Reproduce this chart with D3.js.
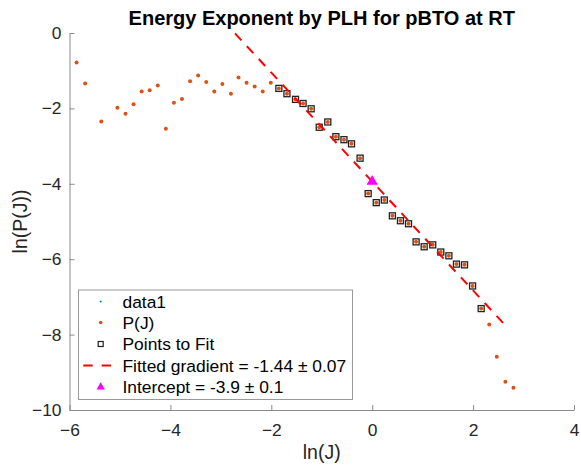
<!DOCTYPE html>
<html><head><meta charset="utf-8">
<script src="https://cdn.jsdelivr.net/npm/d3@7"></script>
<style>body{margin:0;background:#fff}svg{display:block;font-family:"Liberation Sans",Arial,Helvetica,sans-serif}</style>
</head><body><svg id="c" width="581" height="473"></svg>
<script>
const lnJ = [-5.86,-5.69,-5.37,-5.05,-4.89,-4.73,-4.57,-4.41,-4.25,-4.09,-3.93,-3.77,-3.61,-3.45,-3.29,-3.13,-2.97,-2.80,-2.65,-2.49,-2.33,-2.17,-2.01,-1.85,-1.69,-1.52,-1.37,-1.21,-1.05,-0.88,-0.72,-0.56,-0.41,-0.24,-0.08,0.08,0.24,0.40,0.56,0.72,0.87,1.03,1.20,1.36,1.52,1.67,1.83,1.99,2.16,2.32,2.47,2.64,2.80];
const lnP = [-0.78,-1.34,-2.35,-1.98,-2.14,-1.89,-1.55,-1.52,-1.39,-2.54,-1.85,-1.75,-1.28,-1.13,-1.30,-1.55,-1.35,-1.61,-1.18,-1.32,-1.42,-1.55,-1.32,-1.47,-1.61,-1.76,-1.87,-2.01,-2.50,-2.36,-2.75,-2.83,-2.94,-3.32,-4.26,-4.50,-4.43,-4.85,-4.98,-5.06,-5.54,-5.67,-5.62,-5.81,-5.91,-6.13,-6.15,-6.71,-7.31,-7.73,-8.59,-9.25,-9.41];
const fitRange = [-1.9, 2.2];
const gradient = -1.445;
const intercept = -3.94;
const fitLineX = [-2.72, 2.68];
const xTicks = [-6,-4,-2,0,2,4];
const yTicks = [0,-2,-4,-6,-8,-10];
const legendLabels = ["data1","P(J)","Points to Fit","Fitted gradient = -1.44 \u00B1 0.07","Intercept = -3.9 \u00B1 0.1"];
const titleText = "Energy Exponent by PLH for pBTO at RT";

const svg = d3.select("#c");
const L=69.5, R=574, T=33, B=410;
const x = d3.scaleLinear().domain([-6,4]).range([L,R]);
const y = d3.scaleLinear().domain([-10,0]).range([B,T]);
const axisCol="#8a8a8a", textCol="#262626";
const orange="#D95319", blue="#0072BD";

// axes
const gx = svg.append("g").attr("transform",`translate(0,${B})`)
  .call(d3.axisBottom(x).tickValues(xTicks).tickSizeInner(-5).tickSizeOuter(0).tickPadding(10).tickFormat(d3.format("d")));
const gy = svg.append("g").attr("transform",`translate(${L},0)`)
  .call(d3.axisLeft(y).tickValues(yTicks).tickSizeInner(-5).tickSizeOuter(0).tickPadding(8).tickFormat(d3.format("d")));
[gx,gy].forEach(g=>{
  g.select(".domain").attr("stroke",axisCol);
  g.selectAll(".tick line").attr("stroke",axisCol);
  g.selectAll(".tick text").attr("fill",textCol).style("font-size","17.4px").style("font-family","'Liberation Sans',Arial,sans-serif");
});
gx.selectAll(".tick text").attr("dy","0.9em");

// data
const pts = lnJ.map((v,i)=>({x:v,y:lnP[i]}));
const plot = svg.append("g");
plot.selectAll("circle.p").data(pts).join("circle").attr("class","p")
  .attr("cx",d=>x(d.x)).attr("cy",d=>y(d.y)).attr("r",2).attr("fill",orange);
const fitPts = pts.filter(d=>d.x>=fitRange[0] && d.x<=fitRange[1]);
plot.selectAll("rect.f").data(fitPts).join("rect").attr("class","f")
  .attr("x",d=>x(d.x)-3).attr("y",d=>y(d.y)-3).attr("width",6).attr("height",6)
  .attr("fill","none").attr("stroke","#222").attr("stroke-width",1.3);
const line = d3.line().x(d=>x(d)).y(d=>y(intercept+gradient*d));
plot.append("path").datum(fitLineX).attr("d",line).attr("fill","none")
  .attr("stroke","#ff0000").attr("stroke-width",2).attr("stroke-dasharray","9.5,8");
const tri = d3.symbol().type(d3.symbolTriangle).size(55);
plot.append("path").attr("d",tri).attr("transform",`translate(${x(0)},${y(intercept)})`).attr("fill","#ff00ff");

// title & labels
svg.append("text").attr("x",(L+R)/2).attr("y",25).attr("text-anchor","middle")
  .style("font-weight","bold").style("font-size","20px").attr("fill","#000").text(titleText);
svg.append("text").attr("x",(L+R)/2).attr("y",459).attr("text-anchor","middle")
  .style("font-size","19.5px").attr("fill",textCol).text("ln(J)");
svg.append("text").attr("transform",`translate(27,${(T+B)/2}) rotate(-90)`).attr("text-anchor","middle")
  .style("font-size","19.5px").attr("fill",textCol).text("ln(P(J))");

// legend
const lg = svg.append("g");
lg.append("rect").attr("x",78.5).attr("y",290).attr("width",274).attr("height",109.5)
  .attr("fill","#fff").attr("stroke","#999").attr("stroke-width",1);
const rowY = [301.5,322.5,344,365.5,387];
const mx = 100.7, tx = 122.5;
lg.append("circle").attr("cx",mx).attr("cy",rowY[0]).attr("r",1).attr("fill",blue);
lg.append("circle").attr("cx",mx).attr("cy",rowY[1]).attr("r",1.8).attr("fill",orange);
lg.append("rect").attr("x",mx-2.5).attr("y",rowY[2]-2.5).attr("width",5).attr("height",5).attr("fill","none").attr("stroke","#222").attr("stroke-width",1.2);
lg.append("line").attr("x1",83.3).attr("x2",111).attr("y1",rowY[3]).attr("y2",rowY[3])
  .attr("stroke","#ff0000").attr("stroke-width",2).attr("stroke-dasharray","9.4,9");
lg.append("path").attr("d",d3.symbol().type(d3.symbolTriangle).size(30)).attr("transform",`translate(${mx},${rowY[4]})`).attr("fill","#ff00ff");
lg.selectAll("text").data(legendLabels).join("text").attr("x",tx).attr("y",(d,i)=>rowY[i]).attr("dy","0.35em")
  .style("font-size","17.4px").attr("fill","#000").text(d=>d);
</script></body></html>
